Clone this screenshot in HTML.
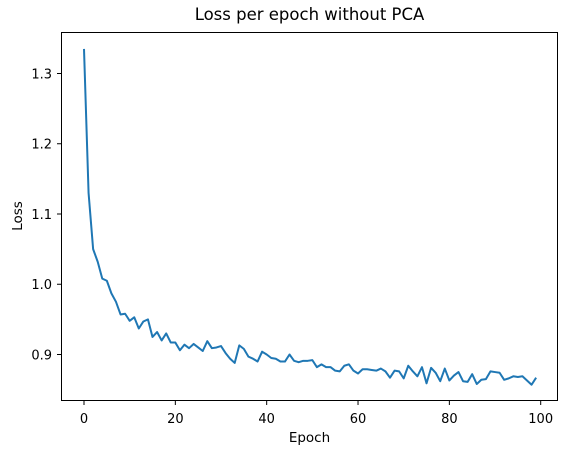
<!DOCTYPE html>
<html><head><meta charset="utf-8"><style>
body{margin:0;background:#fff;}
svg{display:block;font-family:"DejaVu Sans","Liberation Sans",sans-serif;}
</style></head><body>
<svg id="chart" width="567" height="455" viewBox="0 0 567 455" xmlns="http://www.w3.org/2000/svg">
<rect width="567" height="455" fill="#fff"/>
<text x="309.5" y="20" text-anchor="middle" font-size="16.5">Loss per epoch without PCA</text>
<g id="ticks"></g>
<path id="line" fill="none" stroke="#1f77b4" stroke-width="2" stroke-linejoin="round"/>
<rect x="61.5" y="32.5" width="496" height="368" fill="none" stroke="#000" stroke-width="1"/>
<text x="309.5" y="442" text-anchor="middle" font-size="13.5">Epoch</text>
<text transform="translate(22,216) rotate(-90)" text-anchor="middle" font-size="13.5">Loss</text>
</svg>
<script>
const loss=[1.335,1.13,1.05,1.032,1.008,1.005,0.987,0.975,0.957,0.958,0.948,0.953,0.937,0.947,0.95,0.925,0.932,0.92,0.93,0.917,0.917,0.906,0.914,0.909,0.915,0.91,0.905,0.919,0.909,0.91,0.912,0.902,0.894,0.888,0.913,0.908,0.897,0.894,0.89,0.904,0.9,0.895,0.894,0.89,0.89,0.9,0.891,0.889,0.891,0.891,0.892,0.882,0.886,0.882,0.882,0.877,0.876,0.884,0.886,0.877,0.873,0.879,0.879,0.878,0.877,0.88,0.876,0.867,0.877,0.876,0.866,0.884,0.876,0.869,0.882,0.859,0.881,0.874,0.862,0.88,0.863,0.87,0.875,0.862,0.861,0.872,0.858,0.864,0.865,0.876,0.875,0.874,0.864,0.866,0.869,0.868,0.869,0.863,0.857,0.867];
const xTicks=[0,20,40,60,80,100];
const yTicks=[0.9,1.0,1.1,1.2,1.3];
const yTickLabels=["0.9","1.0","1.1","1.2","1.3"];
function xs(v){return 84+v*4.567;}
function ys(v){return 354.5-(v-0.9)*702.5;}
const NS="http://www.w3.org/2000/svg";
const g=document.getElementById('ticks');
xTicks.forEach(t=>{
 const l=document.createElementNS(NS,'line');
 l.setAttribute('x1',xs(t));l.setAttribute('x2',xs(t));l.setAttribute('y1',400.5);l.setAttribute('y2',405);l.setAttribute('stroke','#000');l.setAttribute('stroke-width','1');
 
 
 g.appendChild(l);
 const tx=document.createElementNS(NS,'text');
 tx.setAttribute('x',xs(t));tx.setAttribute('y',423);tx.setAttribute('text-anchor','middle');tx.setAttribute('font-size','13');tx.textContent=t;
 
 
 g.appendChild(tx);
});
yTicks.forEach((t,i)=>{
 const l=document.createElementNS(NS,'line');
 l.setAttribute('x1',57);l.setAttribute('x2',61.5);l.setAttribute('y1',ys(t));l.setAttribute('y2',ys(t));l.setAttribute('stroke','#000');l.setAttribute('stroke-width','1');
 
 
 g.appendChild(l);
 const tx=document.createElementNS(NS,'text');
 tx.setAttribute('x',52);tx.setAttribute('y',ys(t)+4.8);tx.setAttribute('text-anchor','end');tx.setAttribute('font-size','13');tx.textContent=yTickLabels[i];
 
 
 g.appendChild(tx);
});
document.getElementById('line').setAttribute('d',loss.map((v,i)=>(i?'L':'M')+xs(i).toFixed(2)+' '+ys(v).toFixed(2)).join(' '));
</script>
</body></html>
